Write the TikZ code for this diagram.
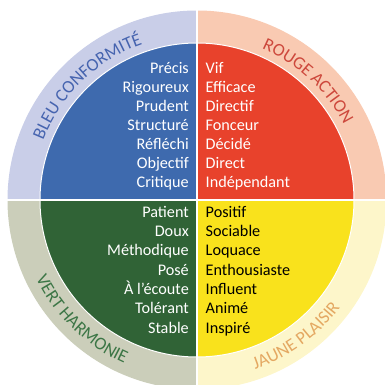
\documentclass[tikz,border=0pt]{standalone}
\usepackage{fontspec}
\setmainfont{Carlito}
\usetikzlibrary{decorations.text}
\definecolor{blueIn}{RGB}{62,106,174}
\definecolor{blueRing}{RGB}{201,206,232}
\definecolor{redIn}{RGB}{232,66,44}
\definecolor{redRing}{RGB}{249,202,178}
\definecolor{greenIn}{RGB}{48,99,54}
\definecolor{greenRing}{RGB}{203,206,186}
\definecolor{yellowIn}{RGB}{249,226,28}
\definecolor{yellowRing}{RGB}{253,246,202}
\definecolor{blueT}{RGB}{70,100,175}
\definecolor{redT}{RGB}{205,72,60}
\definecolor{greenT}{RGB}{60,118,70}
\definecolor{yellowT}{RGB}{228,168,98}
\newcommand{\wordfont}{\fontsize{16.2}{16.2}\selectfont}
\newcommand{\ringfont}{\fontsize{18}{18}\selectfont}
\tikzset{
  word/.style={inner sep=0pt, font=\wordfont},
  wordL/.style={word, anchor=base east, text=white},
  wordR/.style={word, anchor=base west},
  divider/.style={white, line width=2pt},
}
\begin{document}
\begin{tikzpicture}[x=1pt,y=1pt]
\useasboundingbox (-197,-185) rectangle (187,200);
\def\Ro{189.5}
\def\Ri{157}
% outer ring quadrants
\fill[blueRing] (0,0) -- (180:\Ro) arc[start angle=180,end angle=90,radius=\Ro] -- cycle;
\fill[redRing] (0,0) -- (90:\Ro) arc[start angle=90,end angle=0,radius=\Ro] -- cycle;
\fill[greenRing] (0,0) -- (180:\Ro) arc[start angle=180,end angle=270,radius=\Ro] -- cycle;
\fill[yellowRing] (0,0) -- (270:\Ro) arc[start angle=270,end angle=360,radius=\Ro] -- cycle;
% inner quadrants
\fill[blueIn] (0,0) -- (180:\Ri) arc[start angle=180,end angle=90,radius=\Ri] -- cycle;
\fill[redIn] (0,0) -- (90:\Ri) arc[start angle=90,end angle=0,radius=\Ri] -- cycle;
\fill[greenIn] (0,0) -- (180:\Ri) arc[start angle=180,end angle=270,radius=\Ri] -- cycle;
\fill[yellowIn] (0,0) -- (270:\Ri) arc[start angle=270,end angle=360,radius=\Ri] -- cycle;
\draw[white, line width=1pt] (0,0) circle[radius=\Ri];
% dividers
\coordinate (top) at (90:\Ro);
\coordinate (bot) at (270:\Ro);
\coordinate (lft) at (180:\Ro);
\coordinate (rgt) at (0:\Ro);
\draw[divider] (top) -- (bot);
\draw[divider] (lft) -- (rgt);
% blue words
\foreach \w [count=\i] in {Précis,Rigoureux,Prudent,Structuré,Réfléchi,Objectif,Critique}
  \node[wordL] (b\i) at (-8,{126.7-19*(\i-1)}) {\w};
% red words
\foreach \w [count=\i] in {Vif,Efficace,Directif,Fonceur,Décidé,Direct,Indépendant}
  \node[wordR, text=white] (r\i) at (8.5,{126.7-19*(\i-1)}) {\w};
% green words
\foreach \w [count=\i] in {Patient,Doux,Méthodique,Posé,À l’écoute,Tolérant,Stable}
  \node[wordL] (g\i) at (-8,{-17.3-19.3*(\i-1)}) {\w};
% yellow words
\foreach \w [count=\i] in {Positif,Sociable,Loquace,Enthousiaste,Influent,Animé,Inspiré}
  \node[wordR, text=black] (y\i) at (8.5,{-17.3-19.3*(\i-1)}) {\w};
% ring titles
\path[decorate, decoration={text along path, text align=center,
  text={|\ringfont\color{blueT}|BLEU CONFORMITÉ}}]
  (178:165) arc[start angle=178,end angle=90,radius=165];
\path[decorate, decoration={text along path, text align=center,
  text={|\ringfont\color{redT}|ROUGE ACTION}}]
  (92:165) arc[start angle=92,end angle=2,radius=165];
\path[decorate, decoration={text along path, text align=center,
  text={|\ringfont\color{greenT}|VERT HARMONIE}}]
  (182:179) arc[start angle=182,end angle=270,radius=179];
\path[decorate, decoration={text along path, text align=center,
  text={|\ringfont\color{yellowT}|JAUNE PLAISIR}}]
  (262:179) arc[start angle=262,end angle=350,radius=179];
\end{tikzpicture}
\end{document}
